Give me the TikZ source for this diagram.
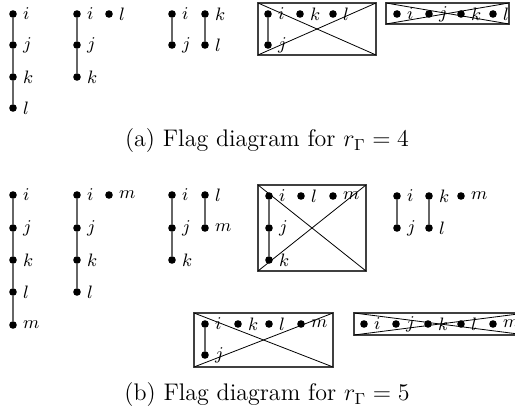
\documentclass[tikz,border=0pt]{standalone}
\usepackage{amsmath}
\usepackage{tikz}
\usetikzlibrary{positioning}

\begin{document}
\begin{tikzpicture}[
    x=0.5pt, y=-0.5pt,
    dot/.style={
        circle, fill=black, inner sep=0pt, minimum size=3.8pt,
        label={[label distance=2.2pt, inner sep=0.6pt, font=\small]right:$#1$}
    },
    flag/.style={draw=black!60, line width=0.6pt},
    frame/.style={draw=black!75, line width=0.6pt},
    cross/.style={draw=black, line width=0.4pt},
    caption/.style={font=\large}
]
\useasboundingbox (0,0) rectangle (515,415);

% (a) r = 4
\node [dot=i] (a1i) at (13,14)  {};
\node [dot=j] (a1j) at (13,45)  {};
\node [dot=k] (a1k) at (13,77)  {};
\node [dot=l] (a1l) at (13,108) {};
\draw [flag] (a1i) -- (a1j) -- (a1k) -- (a1l);

\node [dot=i] (a2i) at (77,14)  {};
\node [dot=j] (a2j) at (77,45)  {};
\node [dot=k] (a2k) at (77,77)  {};
\node [dot=l] (a2l) at (109,14) {};
\draw [flag] (a2i) -- (a2j) -- (a2k);

\node [dot=i] (a3i) at (172,14) {};
\node [dot=j] (a3j) at (172,45) {};
\node [dot=k] (a3k) at (205,14) {};
\node [dot=l] (a3l) at (205,45) {};
\draw [flag] (a3i) -- (a3j);
\draw [flag] (a3k) -- (a3l);

\coordinate (a4nw) at (258,3);
\coordinate (a4se) at (376,55);
\draw [frame] (a4nw) rectangle (a4se);
\draw [cross] (a4nw) -- (a4se);
\draw [cross] (a4nw |- a4se) -- (a4se |- a4nw);
\node [dot=i] (a4i) at (268,14) {};
\node [dot=j] (a4j) at (268,45) {};
\node [dot=k] (a4k) at (300,14) {};
\node [dot=l] (a4l) at (333,14) {};
\draw [flag] (a4i) -- (a4j);

\coordinate (a5nw) at (386,3);
\coordinate (a5se) at (509,24);
\draw [frame] (a5nw) rectangle (a5se);
\draw [cross] (a5nw) -- (a5se);
\draw [cross] (a5nw |- a5se) -- (a5se |- a5nw);
\foreach \n/\x in {i/397, j/429, k/461, l/493}
    \node [dot=\n] (a5\n) at (\x,14) {};

\node [caption] (capa) at (267,141) {(a)\ Flag diagram for $r_\Gamma = 4$};

% (b) r = 5
\node [dot=i] (b1i) at (13,195) {};
\node [dot=j] (b1j) at (13,228) {};
\node [dot=k] (b1k) at (13,260) {};
\node [dot=l] (b1l) at (13,292) {};
\node [dot=m] (b1m) at (13,325) {};
\draw [flag] (b1i) -- (b1j) -- (b1k) -- (b1l) -- (b1m);

\node [dot=i] (b2i) at (77,195)  {};
\node [dot=j] (b2j) at (77,228)  {};
\node [dot=k] (b2k) at (77,260)  {};
\node [dot=l] (b2l) at (77,292)  {};
\node [dot=m] (b2m) at (109,195) {};
\draw [flag] (b2i) -- (b2j) -- (b2k) -- (b2l);

\node [dot=i] (b3i) at (172,195) {};
\node [dot=j] (b3j) at (172,228) {};
\node [dot=k] (b3k) at (172,260) {};
\node [dot=l] (b3l) at (205,195) {};
\node [dot=m] (b3m) at (205,228) {};
\draw [flag] (b3i) -- (b3j) -- (b3k);
\draw [flag] (b3l) -- (b3m);

\coordinate (b4nw) at (258,185);
\coordinate (b4se) at (366,271);
\draw [frame] (b4nw) rectangle (b4se);
\draw [cross] (b4nw) -- (b4se);
\draw [cross] (b4nw |- b4se) -- (b4se |- b4nw);
\node [dot=i] (b4i) at (269,196) {};
\node [dot=j] (b4j) at (269,228) {};
\node [dot=k] (b4k) at (269,260) {};
\node [dot=l] (b4l) at (301,196) {};
\node [dot=m] (b4m) at (333,196) {};
\draw [flag] (b4i) -- (b4j) -- (b4k);

\node [dot=i] (b5i) at (397,196) {};
\node [dot=j] (b5j) at (397,228) {};
\node [dot=k] (b5k) at (429,196) {};
\node [dot=l] (b5l) at (429,228) {};
\node [dot=m] (b5m) at (461,196) {};
\draw [flag] (b5i) -- (b5j);
\draw [flag] (b5k) -- (b5l);

\coordinate (b6nw) at (194,313);
\coordinate (b6se) at (333,367);
\draw [frame] (b6nw) rectangle (b6se);
\draw [cross] (b6nw) -- (b6se);
\draw [cross] (b6nw |- b6se) -- (b6se |- b6nw);
\node [dot=i] (b6i) at (205,324) {};
\node [dot=j] (b6j) at (205,355) {};
\node [dot=k] (b6k) at (238,324) {};
\node [dot=l] (b6l) at (269,324) {};
\node [dot=m] (b6m) at (301,324) {};
\draw [flag] (b6i) -- (b6j);

\coordinate (b7nw) at (354,313);
\coordinate (b7se) at (526,335);
\draw [frame] (b7nw) rectangle (b7se);
\draw [cross] (b7nw) -- (b7se);
\draw [cross] (b7nw |- b7se) -- (b7se |- b7nw);
\foreach \n/\x in {i/364, j/396, k/428, l/461, m/493}
    \node [dot=\n] (b7\n) at (\x,324) {};

\node [caption] (capb) at (267,395) {(b)\ Flag diagram for $r_\Gamma = 5$};
\end{tikzpicture}
\end{document}
